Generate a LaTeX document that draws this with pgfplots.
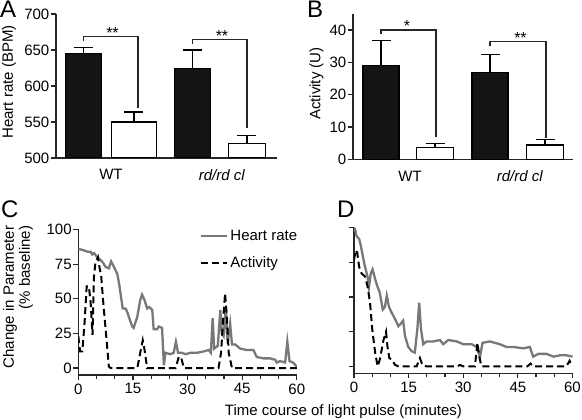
\documentclass[border=0pt]{standalone}
\usepackage{fontspec}
\setmainfont{Liberation Sans}
\usepackage{pgfplots}
\pgfplotsset{compat=1.18}
\definecolor{axc}{HTML}{262626}
\definecolor{hrc}{HTML}{787878}
\newcommand{\fs}{\fontsize{15}{17}\selectfont}
\pgfplotsset{
  base/.style={scale only axis, axis lines=left,
    axis line style={-, line width=1.2pt, color=axc},
    tick align=outside, tick style={line width=1.2pt, color=axc},
    major tick length=5pt, minor tick length=4pt,
    ticklabel style={font=\fs}, label style={font=\fs},
    /pgf/number format/assume math mode=true,
    yticklabel style={inner xsep=1.5pt}},
  barax/.style={base, x tick style={draw=none}, xticklabel style={yshift=-3pt},
    xtick={#1}, xticklabels={WT,\textit{rd/rd cl}}},
  eb/.style={error bars/y dir=plus, error bars/y explicit,
    error bars/error bar style={line width=1.2pt, black},
    error bars/error mark options={rotate=90, line width=1.2pt, mark size=9.5pt, black}},
  bk/.style={ybar, bar shift=0pt, fill=black!92, draw=black, line width=1.2pt, eb},
  wh/.style={ybar, bar shift=0pt, fill=white, draw=black, line width=1.2pt, eb},
  brk/.style={sharp plot, mark=none, line width=1.2pt, color=axc},
  hr/.style={sharp plot, mark=none, line width=2.3pt, color=hrc},
  act/.style={sharp plot, mark=none, line width=2pt, color=black, dash pattern=on 7pt off 4pt},
  timeax/.style={base, width=218.5pt, height=145.5pt, xmin=0, xmax=60, ymin=-5, ymax=100,
    xtick={0,15,...,60}, minor xtick={5,10,20,25,35,40,50,55}, ytick={0,25,...,100}},
}
\begin{document}
\begin{tikzpicture}[x=1pt,y=1pt]
\path[use as bounding box] (0,0) rectangle (582,420);
% ---------- A ----------
\begin{axis}[barax={111,222}, at={(56pt,262pt)}, anchor=south west,
  width=221pt, height=144pt, xmin=56, xmax=277, ymin=500, ymax=700,
  ytick={500,550,...,700}, ylabel={Heart rate (BPM)},
  ylabel style={at={(axis description cs:-0.213,0.528)}, anchor=center}]
\addplot[bk, bar width=36] coordinates {(83.5,645) +- (0,9) (192.5,624.6) +- (0,25.4)};
\addplot[wh, bar width=44.5] coordinates {(134,550) +- (0,14)};
\addplot[wh, bar width=37] coordinates {(247,520) +- (0,11)};
\addplot[brk] coordinates {(83.5,663) (83.5,669) (138,669) (138,569)};
\addplot[brk] coordinates {(192.5,658) (192.5,665) (247,665) (247,541)};
\node[font=\fontsize{16}{16}\selectfont, anchor=base, inner sep=0pt] at (axis cs:112.5,666.5) {**};
\node[font=\fontsize{16}{16}\selectfont, anchor=base, inner sep=0pt] at (axis cs:222,662) {**};
\end{axis}
% ---------- B ----------
\begin{axis}[barax={410,520}, at={(353pt,260.7pt)}, anchor=south west,
  width=220pt, height=145.5pt, xmin=353, xmax=573, ymin=0, ymax=45,
  ytick={0,10,...,40}, ylabel={Activity (U)},
  ylabel style={at={(axis description cs:-0.166,0.52)}, anchor=center}]
\addplot[bk, bar width=36] coordinates {(381,28.9) +- (0,7.8) (490,26.9) +- (0,5.6)};
\addplot[wh, bar width=37] coordinates {(435,3.6) +- (0,1.3) (545,4.4) +- (0,1.6)};
\addplot[brk] coordinates {(381,38.8) (381,40) (436,40) (436,7)};
\addplot[brk] coordinates {(490,34.9) (490,36.4) (546,36.4) (546,6.5)};
\node[font=\fontsize{16}{16}\selectfont, anchor=base, inner sep=0pt] at (axis cs:407,39.5) {*};
\node[font=\fontsize{16}{16}\selectfont, anchor=base, inner sep=0pt] at (axis cs:520.5,35.9) {**};
\end{axis}
% ---------- C ----------
\begin{axis}[timeax, at={(78.3pt,45pt)}, anchor=south west,
  ylabel={Change in Parameter\\(\% baseline)},
  ylabel style={at={(axis description cs:-0.276,0.535)}, anchor=center, align=right, font=\fontsize{15}{16}\selectfont},
  legend style={draw=none, fill=none, at={(axis cs:33.4,101)}, anchor=north west,
    inner sep=0pt, font=\fs, row sep=11pt},
  legend cell align=left,
  legend image code/.code={\draw[#1] (0pt,0pt) -- (26pt,0pt);}]
\addplot[hr] coordinates {(0,86) (0.8,85.5) (1.5,85) (2.5,84) (3.4,84) (3.8,82) (4.3,83) (5.2,80) (6.1,78) (6.8,76) (7.5,73) (8.4,72) (9,77) (9.8,73) (10.7,68) (11.2,61) (11.7,52) (12.2,43) (13,43) (13.5,40) (14,36) (14.8,30) (15.2,29) (16.2,37) (17,49) (17.5,53) (18.2,49) (18.9,43) (19.5,44) (20.3,42) (20.7,28) (21.6,28) (22.1,30) (23,29) (23.5,2) (23.9,11) (25.3,10) (26.2,11) (26.8,19) (27.4,11) (28.5,11) (29.4,10) (30.8,11) (32.6,11) (34.4,12) (35.8,13) (36.4,11) (36.9,36) (37.3,14) (38.3,16) (39,42) (39.4,25) (39.9,23) (40.5,44) (41,18) (41.7,32) (42.2,17) (43.1,17) (44.5,14) (46.3,13) (48.1,13) (49,8) (50.9,7) (52.7,7) (54.1,6) (54.5,4) (55.4,5) (56.8,4) (57.4,19) (58,5) (59,4) (60,1)};
\addlegendentry{Heart rate}
\addplot[act] coordinates {(0,23) (0.5,12) (1.1,12) (1.7,32) (2.3,59) (2.9,59) (3.4,47) (3.9,24) (4.3,66) (4.7,76) (5.4,80) (5.8,73) (6.3,66) (6.8,49) (7.5,28) (8.4,1) (8.9,0) (16.2,0) (17,11) (17.7,20) (18.2,13) (18.9,0) (26.7,0) (27.6,8) (28.2,8) (29,0) (38.5,0) (39.2,11) (39.7,32) (40.3,54) (40.8,37) (41.3,11) (42.2,0) (60,0)};
\addlegendentry{Activity}
\end{axis}
% ---------- D ----------
\begin{axis}[timeax, at={(354pt,46.7pt)}, anchor=south west, yticklabels={}]
\addplot[hr] coordinates {(0,100) (0.3,99) (0.7,94) (1.4,92) (1.8,88) (2.4,80) (3,72) (3.7,65) (4.1,57) (4.6,67) (5.1,70) (5.8,63) (6.4,58) (7.1,53) (7.9,41) (8.5,43) (9,51) (9.6,43) (10.3,39) (11.3,34) (12.2,29) (12.9,31) (13.5,33) (14,22) (14.9,14) (15.8,11) (16.7,10) (17.4,27) (17.9,46) (18.4,27) (19,16) (19.9,18) (21.8,18) (23.6,19) (24.5,16) (25.9,19) (28.2,18) (30,16) (32.3,16) (33.7,14) (34.6,7) (35.3,17) (37.3,18) (40,16) (41.9,14) (43.8,14) (46.5,13) (48.3,14) (49.2,7) (50.6,9) (52.9,9) (54.8,7) (56.6,8) (58.3,8) (60,7)};
\addplot[act] coordinates {(0,77) (0.5,84) (0.9,82) (1.4,72) (2.1,67) (3,65) (3.7,58) (4.4,46) (5,27) (5.8,10) (6.5,0) (7.1,5) (8.1,19) (8.8,25) (9.2,14) (9.7,6) (10.3,5) (11.3,1) (12.2,0) (17.2,0) (18.1,6) (18.8,1) (19.9,0) (28.2,0) (29.1,1) (30,0) (33.2,0) (33.9,17) (34.4,7) (35,0) (47.6,0) (48.5,2) (49.2,0) (58.3,0) (59.2,4) (59.7,1)};
\end{axis}
% ---------- labels ----------
\node[font=\fs] at (343.5pt,8.5pt) {Time course of light pulse (minutes)};
\node[anchor=base west, inner sep=0pt, font=\fontsize{24}{24}\selectfont] at (0pt,402.5pt) {A};
\node[anchor=base west, inner sep=0pt, font=\fontsize{24}{24}\selectfont] at (307pt,402.5pt) {B};
\node[anchor=base west, inner sep=0pt, font=\fontsize{24}{24}\selectfont] at (1pt,202.5pt) {C};
\node[anchor=base west, inner sep=0pt, font=\fontsize{24}{24}\selectfont] at (337pt,202.5pt) {D};
\end{tikzpicture}
\end{document}
